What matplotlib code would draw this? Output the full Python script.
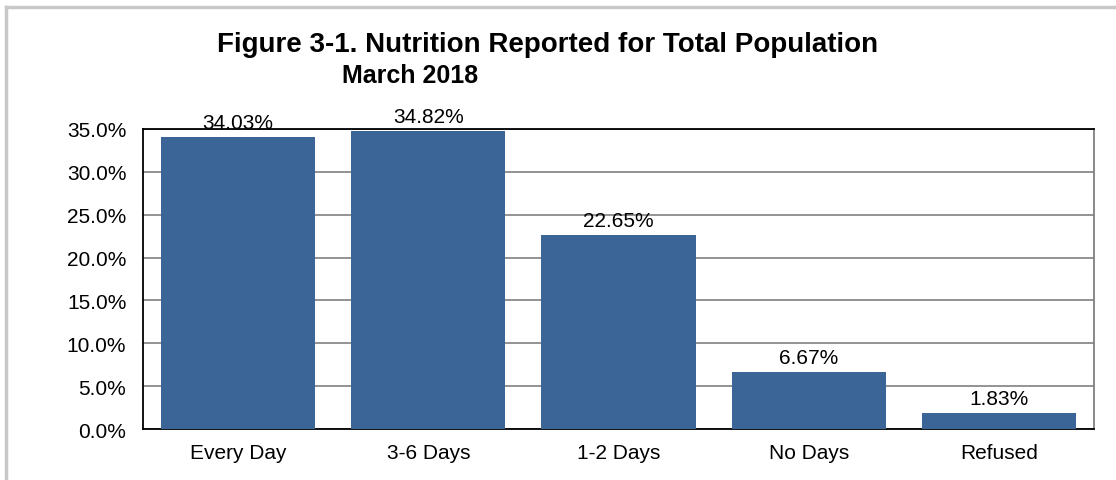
import matplotlib
matplotlib.use("Agg")
import matplotlib.pyplot as plt
from matplotlib.lines import Line2D

categories = ["Every Day", "3-6 Days", "1-2 Days", "No Days", "Refused"]
values = [34.03, 34.82, 22.65, 6.67, 1.83]
value_labels = ["34.03%", "34.82%", "22.65%", "6.67%", "1.83%"]
yticks = [0, 5, 10, 15, 20, 25, 30, 35]
ytick_labels = ["0.0%", "5.0%", "10.0%", "15.0%", "20.0%", "25.0%", "30.0%", "35.0%"]

plt.rcParams['font.family'] = ['Liberation Sans', 'DejaVu Sans']

W, H = 1116, 481
fig = plt.figure(figsize=(W / 100, H / 100), dpi=100)
fig.patch.set_facecolor("white")

ax = fig.add_axes([143 / W, 1 - 430 / H, (1094 - 143) / W, 300 / H])
x = list(range(len(categories)))
ax.bar(x, values, width=0.81, color="#3B6597", zorder=3)
ax.set_xlim(-0.5, len(categories) - 0.5)
ax.set_ylim(0, 35)
ax.set_yticks(yticks)
ax.set_yticklabels(ytick_labels, fontsize=15)
ax.set_xticks(x)
ax.set_xticklabels(categories, fontsize=15)
ax.tick_params(axis="both", length=0, pad=12, colors="black")
ax.tick_params(axis="x", pad=10)
ax.grid(axis="y", color="#808080", linewidth=1.2, zorder=0)
for side in ["left", "bottom", "top"]:
    ax.spines[side].set_color("black")
    ax.spines[side].set_linewidth(1.3)
ax.spines["right"].set_color("#808080")
ax.spines["right"].set_linewidth(1.3)

for xi, v, lab in zip(x, values, value_labels):
    ax.annotate(lab, (xi, v), xytext=(0, 9), textcoords="offset pixels",
                ha="center", va="baseline", fontsize=15, zorder=4, annotation_clip=False)

fig.text(217 / W, 1 - 52 / H, "Figure 3-1. Nutrition Reported for Total Population",
         ha="left", va="baseline", fontsize=20, fontweight="bold")
fig.text(342 / W, 1 - 83 / H, "March 2018", ha="left", va="baseline",
         fontsize=18, fontweight="bold")

# outer frame (top and left edges)
fig.add_artist(Line2D([6 / W, 1], [1 - 8 / H, 1 - 8 / H], color="#C8C8C8", linewidth=2.5,
                      transform=fig.transFigure))
fig.add_artist(Line2D([6 / W, 6 / W], [0, 1 - 8 / H], color="#C8C8C8", linewidth=2.5,
                      transform=fig.transFigure))

fig.savefig("out.png", dpi=100, facecolor="white")
